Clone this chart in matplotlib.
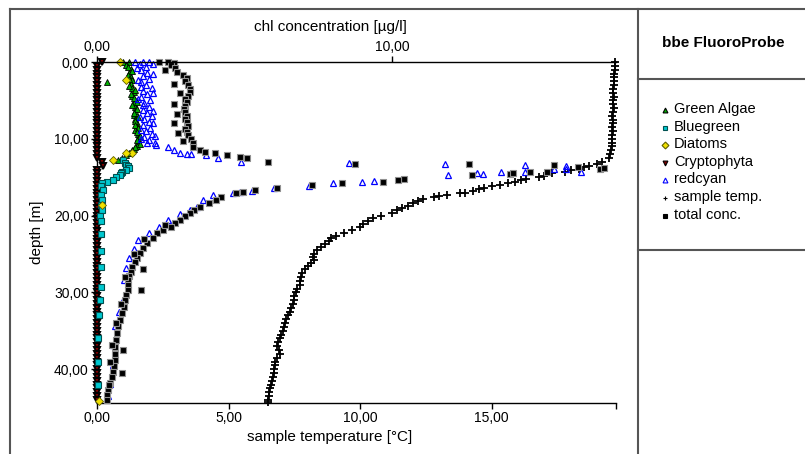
import matplotlib.pyplot as plt
from matplotlib.lines import Line2D
from matplotlib.ticker import FuncFormatter

plt.rcParams['font.family'] = ['Liberation Sans', 'DejaVu Sans']

# sample temperature [°C] vs depth [m]
temp_depth = [0.0, 0.5, 1.0, 1.5, 2.0, 2.5, 3.0, 3.5, 4.0, 4.5, 5.0, 5.5, 6.0, 6.5, 7.0, 7.5, 8.0, 8.5, 9.0, 9.5,
              10.0, 10.5, 11.0, 11.5, 12.0,
              12.5, 13.0, 13.3, 13.5, 13.7, 13.9, 14.1, 14.3, 14.5, 14.8, 15.0, 15.2, 15.4, 15.6, 15.8, 16.0, 16.2,
              16.4, 16.6, 16.8, 17.0, 17.1, 17.3, 17.5, 17.6, 17.8, 18.1, 18.4, 18.7, 19.0, 19.3, 19.7, 20.0, 20.3,
              20.7, 21.1, 21.5, 21.9, 22.3, 22.6, 22.9, 23.3, 23.7, 24.1, 24.5, 25.0, 25.4, 25.8, 26.2, 26.6, 27.0,
              27.5, 28.0, 28.5, 29.0, 29.5, 30.0, 30.5, 31.0, 31.5, 32.0, 32.5, 33.0, 33.5, 34.0, 34.5, 35.0, 35.5,
              36.0, 36.5, 37.0, 37.5, 38.0, 38.5, 39.0, 39.5, 40.0, 40.5, 41.0, 41.5, 42.0, 42.5, 43.0, 43.5, 44.0, 44.3]
temp_val = [19.70, 19.70, 19.68, 19.66, 19.65, 19.63, 19.66, 19.62, 19.60, 19.64, 19.62, 19.60, 19.63, 19.60,
            19.58, 19.62, 19.60, 19.58, 19.60, 19.57, 19.58, 19.55, 19.56, 19.52, 19.50,
            19.45, 19.2, 19.0, 18.7, 18.5, 18.3, 18.0, 17.8, 17.3, 17.0, 16.8, 16.3, 16.1, 15.9, 15.6, 15.3, 15.0,
            14.7, 14.5, 14.3, 14.0, 13.8, 13.3, 13.0, 12.8, 12.4, 12.2, 12.0, 11.8, 11.6, 11.4, 11.2, 10.8, 10.5,
            10.3, 10.1, 10.0, 9.7, 9.4, 9.1, 8.9, 8.8, 8.65, 8.5, 8.35, 8.25, 8.2, 8.25, 8.15, 8.0, 7.9,
            7.8, 7.75, 7.72, 7.7, 7.6, 7.55, 7.5, 7.48, 7.43, 7.38, 7.33, 7.27, 7.2, 7.15, 7.1, 7.05, 7.0,
            6.95, 6.88, 6.84, 6.9, 6.97, 6.85, 6.78, 6.76, 6.73, 6.72, 6.7, 6.66, 6.62, 6.58, 6.55, 6.52, 6.5, 6.48]

# total conc. [ug/l]
tot_depth = [0.0, 0.0, 0.1, 0.4, 0.8, 1.3, 1.7, 2.1, 2.5, 3.0, 3.5, 3.9, 4.4, 4.8, 5.2, 5.7, 6.1, 6.5, 7.0, 7.4,
             7.8, 8.3, 8.7, 9.1, 9.5, 10.0, 10.5, 11.1, 11.4, 11.7, 11.9, 12.1, 12.4, 12.5, 13.0, 13.3, 13.3, 13.4,
             13.7, 13.9, 13.8, 14.3, 14.3, 14.6, 14.5, 14.7, 15.2, 15.3, 15.6, 15.8, 16.0, 16.4, 16.7, 16.9, 17.1,
             17.6, 18.0, 18.4, 18.9, 19.3, 19.7, 20.1, 20.6, 21.0, 21.5, 21.9, 22.3, 22.9, 23.6, 24.2, 24.9, 25.5,
             26.1, 26.7, 27.3, 27.9, 28.4, 29.0, 29.7, 30.3, 31.0, 31.9, 32.7, 33.6, 34.4, 35.3, 36.2, 37.1, 38.0,
             38.8, 39.6, 40.3, 41.0, 41.8, 42.7, 43.4, 44.0, 27.0, 29.7, 37.5, 40.5,
             1.0, 2.8, 4.0, 5.5, 6.8, 8.0, 9.3, 10.3, 21.2, 23.0, 25.0, 28.0, 31.5, 34.0, 36.8, 39.0, 42.0]
tot_chl = [2.1, 2.4, 2.6, 2.5, 2.65, 2.7, 2.9, 3.05, 3.0, 3.1, 3.15, 3.15, 3.1, 3.0, 3.05, 3.0, 2.95, 3.0, 3.05, 3.0,
           3.05, 3.1, 3.0, 3.05, 3.1, 3.2, 3.25, 3.25, 3.5, 3.65, 4.0, 4.4, 4.85, 5.1, 5.8, 8.75, 12.6, 15.5,
           16.3, 17.05, 17.2, 14.7, 15.25, 14.0, 14.1, 12.7, 10.4, 10.2, 9.7, 8.3, 7.3, 6.1, 5.35, 4.95, 4.7,
           4.2, 4.05, 3.8, 3.5, 3.3, 3.15, 3.0, 2.8, 2.65, 2.5, 2.25, 2.05, 1.9, 1.7, 1.55, 1.45, 1.35,
           1.28, 1.2, 1.15, 1.1, 1.05, 1.05, 1.05, 1.0, 0.95, 0.9, 0.85, 0.78, 0.72, 0.68, 0.63, 0.6, 0.6,
           0.6, 0.56, 0.53, 0.5, 0.45, 0.37, 0.35, 0.33, 1.55, 1.5, 0.88, 0.85,
           2.3, 2.6, 2.8, 2.6, 2.7, 2.6, 2.75, 2.9, 2.3, 1.6, 1.25, 0.95, 0.8, 0.65, 0.5, 0.45, 0.4]

# redcyan
rc_depth = [0.0, 0.0, 0.0, 0.3, 0.6, 1.0, 1.4, 1.8, 2.2, 2.6, 3.0, 3.4, 3.8, 4.2, 4.6, 5.0, 5.4, 5.8, 6.2, 6.6,
            7.0, 7.4, 7.8, 8.2, 8.6, 9.0, 9.4, 9.8, 10.2, 10.5, 10.8, 11.1, 11.5, 11.8, 12.0, 12.0, 12.1, 12.5,
            13.0, 13.2, 13.3, 14.7, 14.5, 14.6, 14.3, 13.4, 14.3, 13.9, 13.5, 13.9, 14.3, 15.5, 15.6, 15.8, 16.1,
            16.4, 16.8, 16.9, 17.1, 17.3, 18.0, 18.9, 19.3, 19.8, 20.6, 21.5, 22.3, 23.2, 24.3, 25.5, 26.8, 28.4,
            30.7, 32.5, 34.4, 36.9, 39.5, 41.9, 43.5,
            0.2, 0.8, 1.6, 2.4, 3.2, 4.0, 4.8, 5.6, 6.4, 7.2, 8.0, 8.8, 9.6, 10.0, 10.6]
rc_chl = [1.3, 1.55, 1.75, 1.45, 1.65, 1.5, 1.7, 1.55, 1.75, 1.5, 1.65, 1.85, 1.55, 1.7, 1.5, 1.8, 1.6, 1.75, 1.55,
          1.7, 1.85, 1.6, 1.75, 1.55, 1.8, 1.65, 1.85, 1.6, 1.75, 1.95, 2.0, 2.4, 2.6, 2.8, 3.05, 3.2, 3.7, 4.1,
          4.9, 8.55, 11.8, 11.9, 12.9, 13.1, 13.7, 14.5, 14.5, 15.5, 15.9, 15.9, 16.4, 9.4, 9.0, 8.0, 7.2,
          6.0, 5.25, 4.85, 4.6, 3.95, 3.6, 3.4, 3.15, 2.8, 2.4, 2.1, 1.75, 1.4, 1.25, 1.1, 0.98, 0.9,
          0.9, 0.75, 0.6, 0.55, 0.55, 0.45, 0.37,
          1.9, 1.35, 1.9, 1.4, 1.5, 1.9, 1.4, 1.55, 1.9, 1.45, 1.9, 1.5, 1.95, 1.5, 1.7]

# Green Algae
ga_depth = [0.0, 0.0, 0.4, 0.9, 1.4, 1.9, 2.4, 2.6, 2.9, 3.4, 3.9, 4.4, 4.9, 5.4, 5.9, 6.4, 6.9, 7.4, 7.9, 8.4,
            8.9, 9.4, 9.9, 10.4, 10.9, 11.3, 11.7, 12.1, 12.5, 12.8,
            0.65, 1.15, 1.65, 2.15, 3.15, 3.65, 4.15, 4.65, 5.15, 5.65, 6.15, 6.65, 7.15, 7.65, 8.15, 8.65,
            9.15, 9.65, 10.15, 10.65, 11.1, 11.5, 11.9]
ga_chl = [0.88, 1.1, 1.0, 1.15, 1.1, 1.15, 1.2, 0.33, 1.15, 1.2, 1.25, 1.2, 1.3, 1.25, 1.3, 1.3, 1.25, 1.3, 1.35,
          1.35, 1.3, 1.4, 1.4, 1.4, 1.35, 1.25, 1.15, 1.0, 0.85, 0.7,
          1.05, 1.2, 1.05, 1.1, 1.1, 1.3, 1.15, 1.25, 1.35, 1.2, 1.35, 1.25, 1.4, 1.3, 1.3, 1.4,
          1.35, 1.45, 1.35, 1.45, 1.3, 1.2, 1.1]

# Bluegreen
bg_depth = [12.8, 13.1, 13.4, 13.6, 13.8, 14.1, 14.3, 14.5, 14.7, 15.0, 15.4, 15.6, 15.8, 16.2, 16.7, 17.3,
            18.0, 18.6, 19.3, 20.0, 20.7, 22.4, 24.6, 26.7, 29.3, 31.0, 33.0, 36.0, 39.0, 42.0]
bg_chl = [0.88, 0.95, 1.0, 1.05, 1.1, 1.0, 0.85, 0.8, 0.78, 0.65, 0.55, 0.33, 0.17, 0.15, 0.2, 0.15,
          0.17, 0.12, 0.17, 0.1, 0.15, 0.15, 0.15, 0.15, 0.15, 0.1, 0.08, 0.05, 0.05, 0.05]

# Diatoms
di_depth = [0.0, 2.3, 11.8, 11.9, 12.8, 18.6, 44.2]
di_chl = [0.78, 1.0, 1.2, 1.0, 0.55, 0.17, 0.08]

# Cryptophyta
cr_depth = [0.0, 0.5, 1.0, 1.5, 2.0, 2.5, 3.0, 3.5, 4.0, 4.5, 5.0, 5.5, 6.0, 6.5, 7.0, 7.5, 8.0, 8.5, 9.0, 9.5,
            10.0, 10.5, 11.0, 11.5, 12.0, 12.5, 13.0, 13.5, 14.0, 14.5, 15.0, 15.5, 16.0, 16.5, 17.0, 17.5,
            18.0, 18.5, 19.0, 19.5, 20.0, 20.5, 21.0, 21.5, 22.0, 22.5, 23.0, 23.5, 24.0, 24.5, 25.0, 25.5,
            26.0, 26.5, 27.0, 27.5, 28.0, 28.5, 29.0, 29.5, 30.0, 30.5, 31.0, 31.5, 32.0, 32.5, 33.0, 33.5,
            34.0, 34.5, 35.0, 35.5, 36.0, 36.5, 37.0, 37.5, 38.0, 38.5, 39.0, 39.5, 40.0, 40.5, 41.0, 41.5,
            42.0, 42.5, 43.0, 43.5, 44.0]
cr_chl = [0.17, 0.0, 0.0, 0.0, 0.0, 0.0, 0.0, 0.0, 0.0, 0.0, 0.0, 0.0, 0.0, 0.0, 0.0, 0.0, 0.0, 0.0, 0.0, 0.0,
          0.0, 0.0, 0.0, 0.0, 0.0, 0.0, 0.17, 0.2, 0.0, 0.0, 0.0, 0.0, 0.0, 0.0, 0.0, 0.0,
          0.0, 0.0, 0.0, 0.0, 0.0, 0.0, 0.0, 0.0, 0.0, 0.0, 0.0, 0.0, 0.0, 0.0, 0.0, 0.0,
          0.0, 0.0, 0.0, 0.0, 0.0, 0.0, 0.0, 0.0, 0.0, 0.0, 0.0, 0.0, 0.0, 0.0, 0.0, 0.0,
          0.0, 0.0, 0.0, 0.0, 0.0, 0.0, 0.0, 0.0, 0.0, 0.0, 0.0, 0.0, 0.0, 0.0, 0.0, 0.0,
          0.0, 0.0, 0.0, 0.0, 0.0]

W, H = 805, 454


def fx(px):
    return px / W


def fy(py):
    return 1 - py / H


def comma(v, pos):
    return ('%.2f' % v).replace('.', ',')


fig = plt.figure(figsize=(8.05, 4.54), dpi=100)
ax = fig.add_axes([fx(97), fy(403), 519 / W, 341 / H])
ax2 = ax.twiny()

# temperature on the bottom axis
ax.plot(temp_val, temp_depth, '+', color='black', ms=5.5, mew=1.3, clip_on=False)
ax.set_xlim(0, 19.72)
ax.set_ylim(44.4, 0)

# chlorophyll groups on the top axis
ax2.plot(cr_chl, cr_depth, 'v', ms=5, mfc='#800000', mec='black', mew=1.4, clip_on=False)
ax2.plot(ga_chl, ga_depth, '^', ms=4.5, mfc='#00b000', mec='black', mew=0.6, clip_on=False)
ax2.plot(bg_chl, bg_depth, 's', ms=5, mfc='#00c8d0', mec='#005050', mew=0.8, clip_on=False)
ax2.plot(di_chl, di_depth, 'D', ms=4, mfc='#f0e000', mec='#606000', mew=0.6, clip_on=False)
ax2.plot(rc_chl, rc_depth, '^', ms=5, mfc='none', mec='#0000ff', mew=0.9, clip_on=False)
ax2.plot(tot_chl, tot_depth, 's', ms=4.5, mfc='black', mec='#909090', mew=0.8, clip_on=False)
ax2.set_xlim(0, 17.6)

for s in ['right', 'top']:
    ax.spines[s].set_visible(False)
for s in ['right', 'left', 'bottom']:
    ax2.spines[s].set_visible(False)
ax2.spines['top'].set_linewidth(1.0)
ax.spines['left'].set_linewidth(1.0)
ax.spines['bottom'].set_linewidth(1.0)

fmt = FuncFormatter(lambda v, p: '' if v > 19 else comma(v, p))
ax.set_xticks([0, 5, 10, 15, 19.72])
ax.xaxis.set_major_formatter(fmt)
ax.set_yticks([0, 10, 20, 30, 40])
ax.yaxis.set_major_formatter(FuncFormatter(comma))
ax2.set_xticks([0, 10])
ax2.xaxis.set_major_formatter(FuncFormatter(comma))
ax.tick_params(length=4, width=1, labelsize=10, pad=2)
ax2.tick_params(length=4, width=1, labelsize=10, pad=2)

fig.text(fx(330), fy(437), 'sample temperature [°C]', ha='center', va='center', fontsize=11)
fig.text(fx(330), fy(27), 'chl concentration [µg/l]', ha='center', va='center', fontsize=11)
fig.text(fx(37), fy(232), 'depth [m]', ha='center', va='center', rotation=90, fontsize=11)

# frame lines around the panels
frame = [((10, 9), (10, 454)), ((10, 9), (805, 9)), ((638, 9), (638, 454)),
         ((638, 79), (805, 79)), ((638, 250), (805, 250))]
for (x1, y1), (x2, y2) in frame:
    fig.add_artist(Line2D([fx(x1), fx(x2)], [fy(y1), fy(y2)], transform=fig.transFigure,
                          color='#555555', lw=1.5))

fig.text(fx(662), fy(43), 'bbe FluoroProbe', ha='left', va='center', fontsize=11, fontweight='bold')

legend_items = [
    ('Green Algae', '^', '#00b000', 'black'),
    ('Bluegreen', 's', '#00c8d0', '#005050'),
    ('Diatoms', 'D', '#f0e000', '#606000'),
    ('Cryptophyta', 'v', '#800000', 'black'),
    ('redcyan', '^', 'none', '#0000ff'),
    ('sample temp.', '+', 'black', 'black'),
    ('total conc.', 's', 'black', 'black'),
]
for i, (label, mk, fc, ec) in enumerate(legend_items):
    y = 109 + 17.6 * i
    fig.add_artist(Line2D([fx(665)], [fy(y + 1)], transform=fig.transFigure, marker=mk,
                          ms=3.5, mfc=fc, mec=ec, mew=0.8, linestyle='none'))
    fig.text(fx(674), fy(y), label, ha='left', va='center', fontsize=10.5)

fig.savefig('out.png', dpi=100)
